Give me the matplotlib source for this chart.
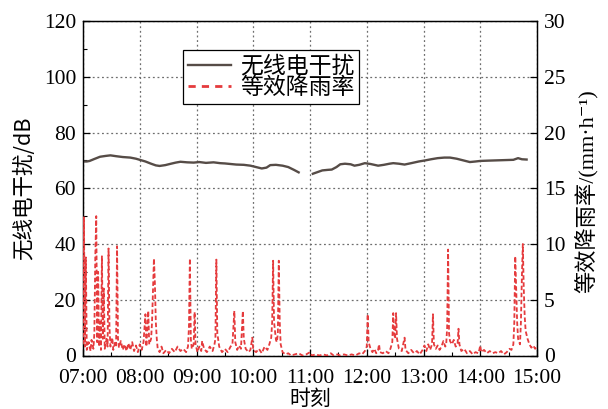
import matplotlib
matplotlib.use('Agg')
import matplotlib.pyplot as plt
from matplotlib.lines import Line2D
import numpy as np

# radio interference level (dB), one gap around 11:00 where nothing was logged
db_time = ['07:00', '07:04', '07:07', '07:12', '07:18', '07:24', '07:29', '07:35', '07:42', '07:50',
           '07:56', '08:00', '08:06', '08:12', '08:17', '08:21', '08:27', '08:33', '08:38', '08:43',
           '08:50', '08:57', '09:03', '09:10', '09:18', '09:25', '09:30', '09:36', '09:42', '09:50',
           '09:57', '10:03', '10:09', '10:14', '10:18', '10:24', '10:31', '10:37', '10:43', '10:48',
           '10:55',
           '11:03', '11:08', '11:13', '11:19', '11:23', '11:28', '11:32', '11:37', '11:43', '11:47',
           '11:52', '11:58', '12:04', '12:12', '12:18', '12:24', '12:28', '12:34', '12:40', '12:47',
           '12:55', '13:02', '13:08', '13:15', '13:22', '13:28', '13:35', '13:42', '13:49', '13:55',
           '14:00', '14:08', '14:17', '14:26', '14:35', '14:40', '14:44', '14:49']
db_value = [69.6, 69.6, 69.8, 70.5, 71.3, 71.6, 71.8, 71.5, 71.2, 71.0,
            70.6, 70.2, 69.6, 68.8, 68.2, 68.0, 68.3, 68.8, 69.2, 69.5,
            69.3, 69.2, 69.4, 69.1, 69.3, 69.0, 68.9, 68.7, 68.5, 68.4,
            68.1, 67.6, 67.1, 67.4, 68.3, 68.4, 68.1, 67.6, 66.6, 65.7,
            np.nan,
            65.2, 65.8, 66.4, 66.6, 66.7, 67.6, 68.6, 68.8, 68.6, 68.1,
            68.4, 69.0, 68.7, 68.1, 68.4, 68.8, 69.0, 68.8, 68.5, 69.0,
            69.6, 70.0, 70.4, 70.8, 71.0, 71.0, 70.6, 70.0, 69.4, 69.6,
            69.8, 69.9, 70.0, 70.1, 70.2, 70.8, 70.4, 70.3]

# equivalent rain rate (mm/h)
rain_time = ['07:00', '07:01', '07:02', '07:03', '07:04', '07:06', '07:08', '07:09', '07:11', '07:12',
             '07:13', '07:14', '07:15', '07:16', '07:17', '07:18', '07:19', '07:20', '07:21', '07:22',
             '07:23', '07:25', '07:26', '07:27', '07:28', '07:29', '07:31', '07:32', '07:34', '07:35',
             '07:36', '07:37', '07:38', '07:40', '07:42', '07:44', '07:46', '07:48', '07:50', '07:52',
             '07:54', '07:56', '07:58', '08:00', '08:02', '08:04', '08:06', '08:07', '08:09', '08:10',
             '08:12', '08:13', '08:14', '08:15', '08:16', '08:17', '08:18', '08:19', '08:21', '08:23',
             '08:25', '08:28', '08:31', '08:34', '08:37', '08:40', '08:43', '08:46', '08:49', '08:51',
             '08:52', '08:53', '08:54', '08:55', '08:57', '08:58', '08:59', '09:01', '09:03', '09:05',
             '09:06', '09:08', '09:11', '09:14', '09:17', '09:19', '09:20', '09:21', '09:22', '09:24',
             '09:27', '09:30', '09:33', '09:36', '09:38', '09:40', '09:41', '09:43', '09:45', '09:47',
             '09:49', '09:50', '09:52', '09:55', '09:57', '09:59', '10:00', '10:03', '10:06', '10:09',
             '10:12', '10:15', '10:17', '10:19', '10:20', '10:21', '10:22', '10:24', '10:25', '10:26',
             '10:27', '10:28', '10:29', '10:31', '10:34', '10:37', '10:40', '10:44', '10:48', '10:52',
             '10:56', '11:00', '11:02', '11:06', '11:10', '11:14', '11:18', '11:22', '11:25', '11:29',
             '11:32', '11:36', '11:40', '11:44', '11:48', '11:52', '11:55', '11:58', '12:00', '12:01',
             '12:02', '12:04', '12:06', '12:08', '12:10', '12:12', '12:13', '12:14', '12:17', '12:20',
             '12:23', '12:25', '12:27', '12:28', '12:29', '12:30', '12:31', '12:32', '12:34', '12:37',
             '12:40', '12:41', '12:44', '12:47', '12:50', '12:53', '12:56', '12:59', '13:01', '13:03',
             '13:05', '13:07', '13:09', '13:10', '13:11', '13:13', '13:15', '13:17', '13:19', '13:21',
             '13:23', '13:24', '13:25', '13:26', '13:27', '13:28', '13:30', '13:32', '13:34', '13:36',
             '13:37', '13:38', '13:40', '13:43', '13:46', '13:49', '13:52', '13:55', '13:58', '13:59',
             '14:00', '14:01', '14:04', '14:07', '14:10', '14:13', '14:16', '14:19', '14:22', '14:25',
             '14:28', '14:31', '14:33', '14:35', '14:36', '14:37', '14:38', '14:39', '14:40', '14:42',
             '14:43', '14:44', '14:45', '14:46', '14:47', '14:48', '14:50', '14:52', '14:54', '14:56',
             '14:58', '15:00']
rain_value = [1.0, 12.4, 0.8, 8.8, 0.5, 1.2, 0.4, 1.4, 0.6, 2.0,
              8.9, 12.5, 1.2, 7.5, 0.8, 3.0, 0.5, 8.9, 1.5, 6.0,
              0.6, 1.5, 0.8, 9.6, 2.5, 0.8, 1.6, 0.5, 1.2, 0.9,
              9.8, 1.5, 0.7, 1.3, 0.5, 1.0, 0.4, 1.1, 0.5, 1.2,
              0.4, 0.9, 0.3, 1.0, 0.5, 1.2, 3.7, 0.8, 4.0, 1.0,
              1.5, 3.0, 6.0, 8.7, 6.5, 3.0, 1.5, 0.6, 0.3, 0.8,
              0.2, 0.5, 0.2, 0.6, 0.3, 0.8, 0.4, 0.6, 0.3, 0.8,
              2.5, 8.7, 1.5, 0.6, 1.0, 3.9, 1.0, 0.3, 0.8, 0.4,
              1.3, 0.6, 0.3, 0.8, 0.4, 1.0, 1.5, 8.6, 2.0, 0.8,
              0.3, 0.6, 0.3, 0.8, 1.0, 4.0, 1.2, 0.5, 0.9, 0.6,
              4.0, 1.5, 0.6, 0.3, 0.5, 1.6, 0.5, 0.3, 0.6, 0.2,
              0.8, 0.5, 1.0, 1.6, 3.0, 8.5, 3.0, 1.4, 1.2, 2.0,
              8.5, 3.0, 1.0, 0.3, 0.1, 0.2, 0.0, 0.1, 0.2, 0.0,
              0.1, 0.3, 0.0, 0.1, 0.0, 0.1, 0.0, 0.2, 0.0, 0.1,
              0.0, 0.1, 0.0, 0.1, 0.0, 0.2, 0.1, 0.4, 0.8, 3.7,
              1.2, 0.6, 0.3, 0.6, 0.2, 0.5, 1.0, 0.3, 0.2, 0.4,
              0.2, 0.6, 1.2, 3.8, 2.0, 1.5, 3.8, 1.5, 0.6, 0.4,
              1.6, 0.5, 0.2, 0.5, 0.2, 0.4, 0.1, 0.5, 0.9, 0.4,
              1.0, 0.5, 1.0, 3.7, 1.0, 0.6, 0.9, 0.5, 0.8, 1.3,
              0.8, 1.0, 2.5, 9.5, 2.0, 1.3, 1.0, 1.4, 0.8, 1.0,
              2.4, 1.0, 0.4, 0.6, 0.2, 0.4, 0.1, 0.3, 0.2, 0.5,
              0.9, 0.3, 0.5, 0.2, 0.4, 0.2, 0.3, 0.2, 0.4, 0.1,
              0.3, 0.6, 0.5, 1.0, 3.0, 8.9, 6.0, 3.0, 1.5, 1.0,
              3.0, 7.0, 10.0, 6.0, 3.5, 2.2, 1.5, 1.0, 0.7, 0.9,
              0.6, 0.8]

hour_labels = ['07:00', '08:00', '09:00', '10:00', '11:00', '12:00', '13:00', '14:00', '15:00']


def to_min(s):
    # minutes after 07:00
    h, m = s.split(':')
    return (int(h) - 7) * 60 + int(m)


db_x = np.array([to_min(t) for t in db_time])
rain_x = np.array([to_min(t) for t in rain_time])
hour_x = [to_min(t) for t in hour_labels]

cjk = 'Noto Sans CJK SC'
serif = 'Liberation Serif'
grey = '#564c47'
red = '#e53b3d'

fig = plt.figure(figsize=(6.08, 4.09), dpi=100)
ax = fig.add_axes([83/608, 1 - 355.5/409, 454/608, 334.5/409])
ax2 = ax.twinx()

ax.plot(db_x, db_value, color=grey, lw=1.7, zorder=3)
ax2.plot(rain_x, rain_value, color=red, lw=1.3, dashes=(2.5, 1.4), zorder=3)

ax.set_xlim(0, 480)
ax.set_ylim(0, 120)
ax2.set_ylim(0, 30)

ax.set_xticks(hour_x)
ax.set_xticklabels(hour_labels)
ax.set_xticks(np.arange(30, 480, 60), minor=True)
ax.set_yticks(np.arange(0, 121, 20))
ax.set_yticks(np.arange(10, 120, 20), minor=True)
ax2.set_yticks(np.arange(0, 31, 5))

for a in (ax, ax2):
    a.tick_params(which='major', direction='in', length=5, width=0.9, labelsize=15.5, pad=5)
    a.tick_params(which='minor', direction='in', length=3, width=0.8)
    for lab in a.get_xticklabels() + a.get_yticklabels():
        lab.set_fontfamily(serif)
    for sp in a.spines.values():
        sp.set_linewidth(0.9)
ax.tick_params(axis='x', pad=10)

ax.grid(True, which='major', linestyle=(0, (1.5, 2.2)), color='#6e6e6e', lw=0.9)
ax.set_axisbelow(True)

ax.set_xlabel('时刻', family=cjk, fontsize=15, labelpad=0)
ax.set_ylabel('无线电干扰/dB', family=cjk, fontsize=15.5, labelpad=6)
ax2.set_ylabel('等效降雨率/(mm·h⁻¹)', family=[serif, 'DejaVu Serif', cjk], fontsize=16)
ax2.yaxis.set_label_coords(1.085, 0.49)

handles = [Line2D([], [], color=grey, lw=1.7),
           Line2D([], [], color=red, lw=2.0, dashes=(2.6, 2.2))]
leg = ax2.legend(handles, ['无线电干扰', '等效降雨率'], loc='upper left',
                 bbox_to_anchor=(183/608, 1 - 50/409), bbox_transform=fig.transFigure,
                 borderaxespad=0, fancybox=False, framealpha=1, edgecolor='black',
                 prop={'family': cjk, 'size': 16.5}, handlelength=1.9, handletextpad=0.4,
                 labelspacing=-0.05, borderpad=0.2)
leg.get_frame().set_linewidth(0.9)

fig.savefig('out.png', dpi=100)
